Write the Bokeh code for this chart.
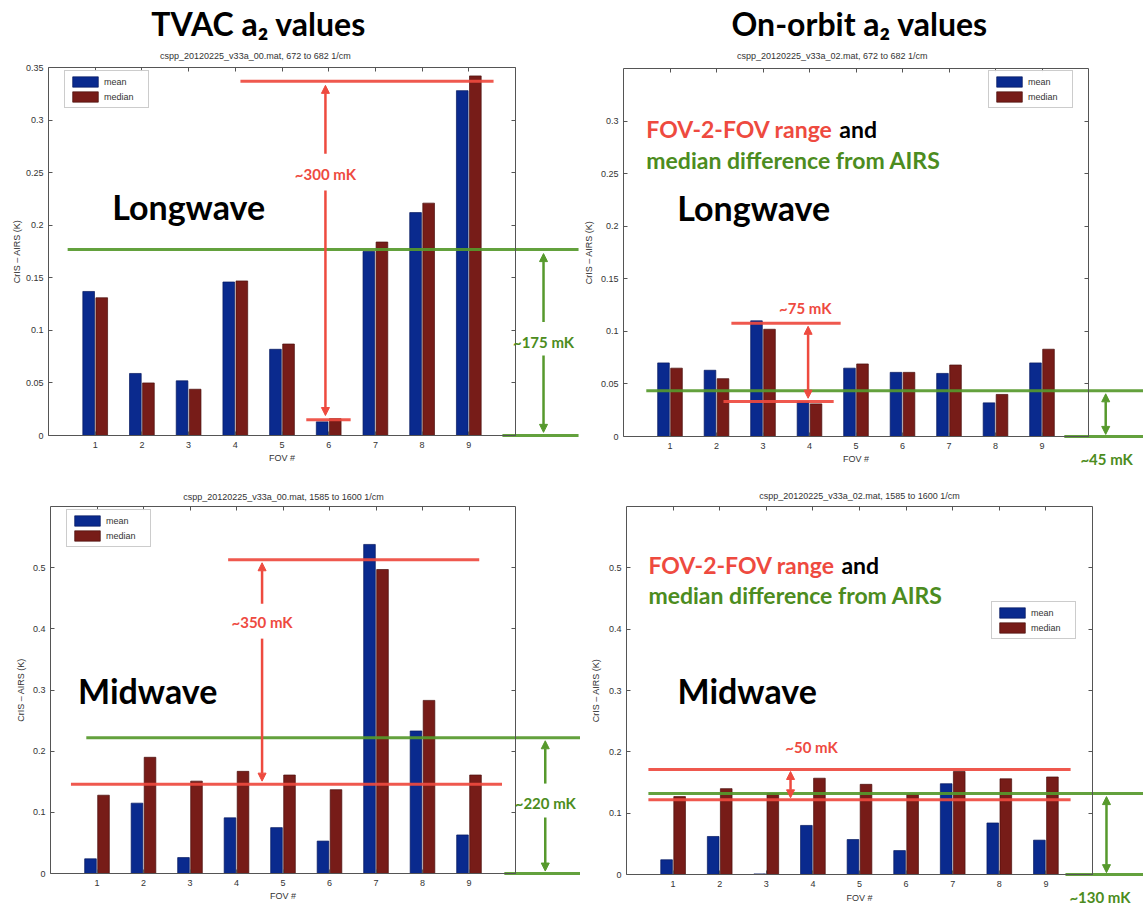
import math
from bokeh.plotting import figure
from bokeh.models import (Range1d, FixedTicker, LinearAxis, Label, Arrow,
                          NormalHead, NumeralTickFormatter, ColumnDataSource)
from bokeh.transform import dodge
from bokeh.layouts import column, row
from bokeh.embed import file_html
from bokeh.resources import INLINE

# ---------------- data ----------------
fov = [1, 2, 3, 4, 5, 6, 7, 8, 9]

tvac_lw_mean = [0.137, 0.059, 0.052, 0.146, 0.082, 0.013, 0.175, 0.212, 0.328]
tvac_lw_median = [0.131, 0.050, 0.044, 0.147, 0.087, 0.016, 0.184, 0.221, 0.342]

orbit_lw_mean = [0.070, 0.063, 0.110, 0.033, 0.065, 0.061, 0.060, 0.032, 0.070]
orbit_lw_median = [0.065, 0.055, 0.102, 0.031, 0.069, 0.061, 0.068, 0.040, 0.083]

tvac_mw_mean = [0.024, 0.115, 0.026, 0.091, 0.075, 0.053, 0.538, 0.233, 0.063]
tvac_mw_median = [0.128, 0.190, 0.151, 0.167, 0.161, 0.137, 0.497, 0.283, 0.161]

orbit_mw_mean = [0.024, 0.062, 0.001, 0.080, 0.057, 0.039, 0.148, 0.084, 0.056]
orbit_mw_median = [0.127, 0.140, 0.132, 0.157, 0.147, 0.131, 0.168, 0.156, 0.159]

yticks_tvac_lw = [0, 0.05, 0.1, 0.15, 0.2, 0.25, 0.3, 0.35]
yticks_orbit_lw = [0, 0.05, 0.1, 0.15, 0.2, 0.25, 0.3]
yticks_mw = [0, 0.1, 0.2, 0.3, 0.4, 0.5]

column_titles = ["TVAC a\u2082 values", "On-orbit a\u2082 values"]
subtitles = ["cspp_20120225_v33a_00.mat, 672 to 682 1/cm",
             "cspp_20120225_v33a_02.mat, 672 to 682 1/cm",
             "cspp_20120225_v33a_00.mat, 1585 to 1600 1/cm",
             "cspp_20120225_v33a_02.mat, 1585 to 1600 1/cm"]
band_names = ["Longwave", "Midwave"]
series_names = ["mean", "median"]
x_label = "FOV #"
y_label = "CrIS \u2013 AIRS (K)"

# annotation levels (K): FOV-to-FOV range (low, high) and median difference
tvac_lw_range = (0.015, 0.337)
tvac_lw_diff = 0.177
orbit_lw_range = (0.0334, 0.1078)
orbit_lw_diff = 0.0436
tvac_mw_range = (0.146, 0.513)
tvac_mw_diff = 0.222
orbit_mw_range = (0.122, 0.171)
orbit_mw_diff = 0.132
range_texts = ["~300 mK", "~75 mK", "~350 mK", "~50 mK"]
diff_texts = ["~175 mK", "~45 mK", "~220 mK", "~130 mK"]
note_red = "FOV-2-FOV range"
note_and = "and"
note_green = "median difference from AIRS"

# ---------------- styles ----------------
BLUE = "#0a2a8e"
BLUE_EDGE = "#06195e"
DRED = "#771c18"
DRED_EDGE = "#4a0f0c"
AX = "#555555"
RED = "#ee4a3f"
GREEN = "#56992c"
GREEN_TXT = "#4c8c20"
BIG = "Lato"
SMALL = "Liberation Sans"


def style_axis(ax):
    ax.axis_line_color = AX
    ax.axis_line_width = 1
    ax.major_tick_in = 4
    ax.major_tick_out = 0
    ax.major_tick_line_color = AX
    ax.minor_tick_line_color = None
    ax.major_label_text_font = SMALL
    ax.major_label_text_font_size = "9px"
    ax.major_label_text_color = "#333333"


def text(p, x, y, s, color="black", size="15px", align="center", baseline="middle",
         style="bold", font=BIG, x_offset=0, angle=0.0):
    p.add_layout(Label(x=x, y=y, text=s, text_color=color, text_font_size=size,
                       text_font=font, text_font_style=style, text_align=align,
                       text_baseline=baseline, x_offset=x_offset, angle=angle))


def panel(fig_l, fig_t, fig_w, fig_h, box, ymax, yticks, mean, median, legend_xy,
          ylabel_x, xlabel_y):
    # box = axes box on the page (left, top, right, bottom) -> data box (0..10, 0..ymax)
    bl, bt, br, bb = box
    sx = 10.0 / (br - bl)
    sy = ymax / (bb - bt)
    xr = Range1d((fig_l - bl) * sx, (fig_l + fig_w - bl) * sx)
    yr = Range1d((bb - fig_t - fig_h) * sy, (bb - fig_t) * sy)
    p = figure(width=fig_w, height=fig_h, x_range=xr, y_range=yr, title=None,
               output_backend="svg", toolbar_location=None,
               x_axis_location=None, y_axis_location=None, min_border=0)
    p.outline_line_color = None
    p.grid.visible = False
    p.background_fill_color = "white"
    p.border_fill_color = "white"

    xb = LinearAxis(fixed_location=0, bounds=(0, 10), ticker=FixedTicker(ticks=fov))
    style_axis(xb)
    xb.major_label_standoff = 6
    p.add_layout(xb, "below")

    xt = LinearAxis(fixed_location=ymax, bounds=(0, 10), ticker=FixedTicker(ticks=fov),
                    major_label_overrides={f: "" for f in fov})
    style_axis(xt)
    p.add_layout(xt, "above")

    yl = LinearAxis(fixed_location=0, bounds=(0, ymax), ticker=FixedTicker(ticks=yticks),
                    formatter=NumeralTickFormatter(format="0.[00]"))
    style_axis(yl)
    yl.major_label_standoff = 5
    p.add_layout(yl, "left")

    yrgt = LinearAxis(fixed_location=10, bounds=(0, ymax), ticker=FixedTicker(ticks=yticks),
                      major_label_overrides={t: "" for t in yticks})
    style_axis(yrgt)
    p.add_layout(yrgt, "right")

    text(p, 5, xlabel_y, x_label, color="#333333", size="9px", style="normal", font=SMALL)
    text(p, ylabel_x, ymax / 2, y_label, color="#333333", size="9px", style="normal",
         font=SMALL, angle=math.pi / 2)

    src = ColumnDataSource(dict(fov=fov, mean=mean, median=median))
    p.vbar(x=dodge("fov", -0.14, range=p.x_range), top="mean", width=0.25, source=src,
           fill_color=BLUE, line_color=BLUE_EDGE, line_width=0.7, legend_label=series_names[0])
    p.vbar(x=dodge("fov", 0.14, range=p.x_range), top="median", width=0.25, source=src,
           fill_color=DRED, line_color=DRED_EDGE, line_width=0.7, legend_label=series_names[1])

    lg = p.legend[0]
    lg.location = legend_xy
    lg.label_text_font = SMALL
    lg.label_text_font_size = "9px"
    lg.label_text_color = "#333333"
    lg.glyph_width = 32
    lg.glyph_height = 13
    lg.label_height = 13
    lg.label_width = 40
    lg.label_standoff = 3
    lg.spacing = 2
    lg.padding = 4
    lg.margin = 0
    lg.border_line_color = "#999999"
    lg.border_line_width = 1
    return p


def hline(p, y, x0, x1, color):
    p.segment(x0=[x0], y0=[y], x1=[x1], y1=[y], line_color=color, line_width=3, line_alpha=0.92)


def arrow(p, x, y0, y1, color, head_start=True, head_end=True):
    p.add_layout(Arrow(x_start=x, y_start=y0, x_end=x, y_end=y1,
                       start=NormalHead(size=8, fill_color=color, line_color=color) if head_start else None,
                       end=NormalHead(size=8, fill_color=color, line_color=color) if head_end else None,
                       line_color=color, line_width=2.5))


NOTE = "23px"
AND_OFFSET = 193

# ---------------- panel 1: TVAC longwave ----------------
p1 = panel(0, 0, 580, 470, (48, 67, 515, 435), 0.35, yticks_tvac_lw,
           tvac_lw_mean, tvac_lw_median, (64, 362), -0.664, -0.021)
text(p1, 4.5, 0.3915, column_titles[0], size="32px", baseline="alphabetic")
text(p1, 4.43, 0.3605, subtitles[0], color="#333333", size="9px", style="normal", font=SMALL)
text(p1, 3.0, 0.218, band_names[0], size="34px")
hline(p1, tvac_lw_range[1], 4.11, 9.53, RED)
hline(p1, tvac_lw_range[0], 5.52, 6.47, RED)
arrow(p1, 5.93, 0.268, tvac_lw_range[1] - 0.004, RED, head_start=False)
arrow(p1, 5.93, 0.233, tvac_lw_range[0] + 0.004, RED, head_start=False)
text(p1, 5.93, 0.249, range_texts[0], color=RED)
hline(p1, tvac_lw_diff, 0.41, 11.35, GREEN)
hline(p1, 0, 9.72, 11.35, GREEN)
arrow(p1, 10.6, 0.108, tvac_lw_diff - 0.004, GREEN, head_start=False)
arrow(p1, 10.6, 0.076, 0.003, GREEN, head_start=False)
text(p1, 10.6, 0.0885, diff_texts[0], color=GREEN_TXT)

# ---------------- panel 2: on-orbit longwave ----------------
p2 = panel(580, 0, 563, 470, (623, 68, 1088, 436), 0.35, yticks_orbit_lw,
           orbit_lw_mean, orbit_lw_median, (408, 362), -0.75, -0.021)
text(p2, 5.08, 0.3925, column_titles[1], size="32px", baseline="alphabetic")
text(p2, 4.49, 0.3615, subtitles[1], color="#333333", size="9px", style="normal", font=SMALL)
text(p2, 0.49, 0.292, note_red, color=RED, size=NOTE, align="left")
text(p2, 0.49, 0.292, note_and, color="black", size=NOTE, align="left", x_offset=AND_OFFSET)
text(p2, 0.49, 0.263, note_green, color=GREEN_TXT, size=NOTE, align="left")
text(p2, 2.8, 0.218, band_names[0], size="34px")
hline(p2, orbit_lw_range[1], 2.32, 4.67, RED)
hline(p2, orbit_lw_range[0], 2.15, 4.52, RED)
arrow(p2, 3.97, orbit_lw_range[0] + 0.003, orbit_lw_range[1] - 0.003, RED)
text(p2, 3.91, 0.122, range_texts[1], color=RED)
hline(p2, orbit_lw_diff, 0.49, 11.2, GREEN)
hline(p2, 0, 9.48, 11.2, GREEN)
arrow(p2, 10.37, 0.002, orbit_lw_diff - 0.003, GREEN)
text(p2, 10.39, -0.021, diff_texts[1], color=GREEN_TXT)

# ---------------- panel 3: TVAC midwave ----------------
p3 = panel(0, 470, 580, 439, (50, 506, 515, 873), 0.6, yticks_mw,
           tvac_mw_mean, tvac_mw_median, (66, 362), -0.645, -0.0376)
text(p3, 5.01, 0.616, subtitles[2], color="#333333", size="9px", style="normal", font=SMALL)
text(p3, 2.09, 0.30, band_names[1], size="34px")
hline(p3, tvac_mw_range[1], 3.82, 9.22, RED)
hline(p3, tvac_mw_range[0], 0.44, 9.71, RED)
arrow(p3, 4.55, 0.441, tvac_mw_range[1] - 0.005, RED, head_start=False)
arrow(p3, 4.55, 0.384, tvac_mw_range[0] + 0.005, RED, head_start=False)
text(p3, 4.55, 0.411, range_texts[2], color=RED)
hline(p3, tvac_mw_diff, 0.77, 11.40, GREEN)
hline(p3, 0, 9.76, 11.40, GREEN)
arrow(p3, 10.64, 0.147, tvac_mw_diff - 0.005, GREEN, head_start=False)
arrow(p3, 10.64, 0.0915, 0.004, GREEN, head_start=False)
text(p3, 10.64, 0.115, diff_texts[2], color=GREEN_TXT)

# ---------------- panel 4: on-orbit midwave ----------------
p4 = panel(580, 470, 563, 439, (626, 506, 1092, 874), 0.6, yticks_mw,
           orbit_mw_mean, orbit_mw_median, (411, 270), -0.665, -0.0376)
text(p4, 5.0, 0.617, subtitles[3], color="#333333", size="9px", style="normal", font=SMALL)
text(p4, 0.47, 0.505, note_red, color=RED, size=NOTE, align="left")
text(p4, 0.47, 0.505, note_and, color="black", size=NOTE, align="left", x_offset=AND_OFFSET)
text(p4, 0.47, 0.456, note_green, color=GREEN_TXT, size=NOTE, align="left")
text(p4, 2.59, 0.30, band_names[1], size="34px")
hline(p4, orbit_mw_range[1], 0.47, 9.53, RED)
hline(p4, orbit_mw_range[0], 0.47, 9.53, RED)
hline(p4, orbit_mw_diff, 0.47, 11.2, GREEN)
arrow(p4, 3.52, orbit_mw_range[0] + 0.003, orbit_mw_range[1] - 0.003, RED)
text(p4, 3.97, 0.208, range_texts[3], color=RED)
hline(p4, 0, 9.42, 11.2, GREEN)
arrow(p4, 10.3, 0.003, orbit_mw_diff - 0.005, GREEN)
text(p4, 10.16, -0.022, diff_texts[3], color=GREEN_TXT, baseline="top")

layout = column(row(p1, p2), row(p3, p4))
open("out.html", "w").write(file_html(layout, INLINE))
